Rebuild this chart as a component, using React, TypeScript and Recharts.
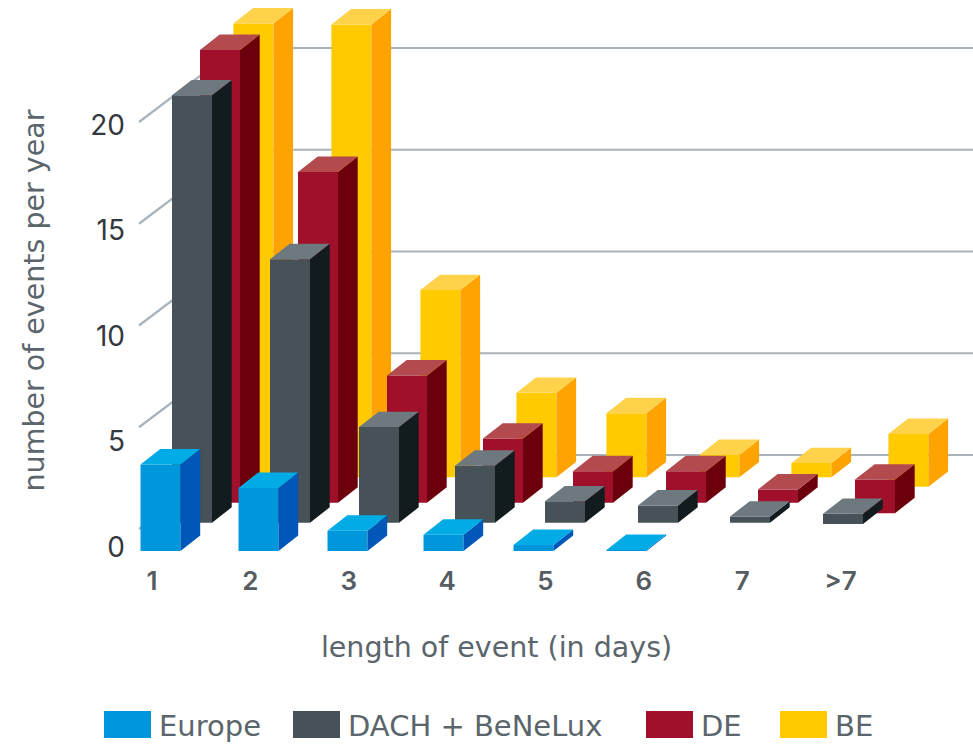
import { Bar, BarChart, CartesianGrid, Legend, XAxis, YAxis } from "recharts";

// events per year, by length of the event in days
const categories = ["1", "2", "3", "4", "5", "6", "7", ">7"];
const europe = [4.25, 3.1, 1, 0.8, 0.3, 0.05, 0, 0];
const dach = [21, 12.95, 4.7, 2.8, 1.05, 0.85, 0.3, 0.5];
const de = [22.25, 16.25, 6.25, 3.15, 1.55, 1.55, 0.65, 1.65];
const be = [22.3, 22.25, 9.2, 4.15, 3.15, 1.1, 0.7, 2.6];
const valueTicks = [0, 5, 10, 15, 20];

const chartData = categories.map((length, i) => ({
  length,
  Europe: europe[i],
  "DACH + BeNeLux": dach[i],
  DE: de[i],
  BE: be[i],
}));

const TICK_FONT = "Inter, sans-serif";
const TEXT_FONT = "'DejaVu Sans', sans-serif";
const PLOT_WIDTH = 873;
const SLOT_TOTAL = PLOT_WIDTH - 744;
const DEPTH_X = 19.7;
const DEPTH_Y = 15.4;

// depth rows, drawn back to front
const rows = [
  { name: "BE", inset: 106.4, lift: 73.7, front: "#ffcb00", side: "#ffa300", top: "#ffd24c", lastDrop: 9.5, lastDx: 4 },
  { name: "DE", inset: 73, lift: 48.3, front: "#a0102a", side: "#6b000c", top: "#b24a4e", lastDrop: 10.5, lastDx: 4 },
  { name: "DACH + BeNeLux", inset: 45, lift: 28.3, front: "#465158", side: "#121b1d", top: "#6d797f", lastDrop: 1.3, lastDx: 0 },
  { name: "Europe", inset: 13.5, lift: 0, front: "#0096db", side: "#0057b8", top: "#00abe6", lastDrop: 0, lastDx: 0 },
];
const legendOrder = ["Europe", "DACH + BeNeLux", "DE", "BE"];
const legendLeft = [104, 293, 646, 780];
const slotNudge = [0, 5, 1, 4, 1, 1, 0, 0];

function Block3D(props: any) {
  const { x, y, width, height, index, row, value } = props;
  if (!value || !(Array.isArray(value) ? value[1] : value)) return null;
  const isLast = index === categories.length - 1;
  const left = x + slotNudge[index] + (isLast ? row.lastDx : 0);
  const top = y - row.lift + (isLast ? row.lastDrop : 0);
  const right = left + width;
  const bottom = top + height;
  return (
    <g>
      <polygon fill={row.front} points={`${left},${top} ${right},${top} ${right},${bottom} ${left},${bottom}`} />
      <polygon
        fill={row.side}
        points={`${right},${top} ${right + DEPTH_X},${top - DEPTH_Y} ${right + DEPTH_X},${bottom - DEPTH_Y} ${right},${bottom}`}
      />
      <polygon
        fill={row.top}
        points={`${left},${top} ${right},${top} ${right + DEPTH_X},${top - DEPTH_Y} ${left + DEPTH_X},${top - DEPTH_Y}`}
      />
    </g>
  );
}

// wall line: runs up the side wall, then along the back
function WallLine(props: any) {
  const { y1, index } = props;
  return <path key={index} d={`M139,${y1} L237,${y1 - 74} H973`} fill="none" stroke="#a9b3bb" strokeWidth={2.2} />;
}

function LegendRow({ payload }: any) {
  const items = legendOrder.map((name) => (payload ?? []).find((p: any) => p.value === name)).filter(Boolean);
  return (
    <div style={{ position: "relative", width: 973, height: 36, fontFamily: TEXT_FONT }}>
      {items.map((item: any, i: number) => (
        <div key={item.value} style={{ position: "absolute", left: legendLeft[i], top: 0, display: "flex", alignItems: "center", height: 36 }}>
          <span style={{ width: 47, height: 27, background: item.color, display: "block" }} />
          <span style={{ marginLeft: 8, marginTop: 3, fontSize: 29, color: "#5b656c", whiteSpace: "nowrap" }}>{item.value}</span>
        </div>
      ))}
    </div>
  );
}

const noMark = () => null;

export default function App() {
  return (
    <div style={{ position: "absolute", left: 0, top: 0, width: 973, height: 745 }}>
      <BarChart width={973} height={745} data={chartData} margin={{ top: 0, right: 0, bottom: 98, left: 0 }}>
        <CartesianGrid yAxisId="wall" xAxisId="labels" vertical={false} horizontal={WallLine} syncWithTicks />

        <XAxis
          xAxisId="labels"
          dataKey="length"
          height={60}
          axisLine={false}
          tickLine={false}
          padding={{ left: 2.8, right: 83.2 }}
          tick={{ fontFamily: TICK_FONT, fontSize: 26, fontWeight: 600, fill: "#555d63", dy: 13 }}
          label={{ value: "length of event (in days)", dx: -40, dy: 66, fontFamily: TEXT_FONT, fontSize: 28.5, fill: "#5b656c" }}
        />
        {rows.map((row) => (
          <XAxis
            key={row.name}
            xAxisId={row.name}
            dataKey="length"
            hide
            height={0}
            padding={{ left: row.inset, right: SLOT_TOTAL - row.inset }}
          />
        ))}

        <YAxis
          yAxisId="labels"
          width={100}
          domain={[0, 20]}
          ticks={valueTicks}
          interval={0}
          axisLine={false}
          tickLine={false}
          padding={{ top: 125, bottom: 4.3 }}
          tick={{ fontFamily: TICK_FONT, fontSize: 28, fill: "#33393e", dx: 33 }}
          label={{
            value: "number of events per year",
            angle: -90,
            position: "insideLeft",
            dx: 29,
            dy: 216,
            fontFamily: TEXT_FONT,
            fontSize: 28.5,
            fill: "#5b656c",
          }}
        />
        <YAxis yAxisId="wall" hide width={0} domain={[0, 20]} ticks={valueTicks} padding={{ top: 122, bottom: 22 }} />
        <YAxis yAxisId="value" hide width={0} domain={[0, 551 / 20.35]} />

        <Legend
          verticalAlign="bottom"
          height={36}
          content={<LegendRow />}
          wrapperStyle={{ left: 0, bottom: 3, width: 973 }}
        />

        {/* the tick and wall axes only get a scale once something is bound to them */}
        <Bar dataKey="Europe" name="tickAnchor" xAxisId="labels" yAxisId="labels" legendType="none" shape={noMark} isAnimationActive={false} />
        <Bar dataKey="Europe" name="wallAnchor" xAxisId="labels" yAxisId="wall" legendType="none" shape={noMark} isAnimationActive={false} />

        {rows.map((row) => (
          <Bar
            key={row.name}
            dataKey={row.name}
            name={row.name}
            fill={row.front}
            xAxisId={row.name}
            yAxisId="value"
            barSize={40}
            isAnimationActive={false}
            shape={(props: any) => <Block3D {...props} row={row} />}
          />
        ))}
      </BarChart>
    </div>
  );
}
